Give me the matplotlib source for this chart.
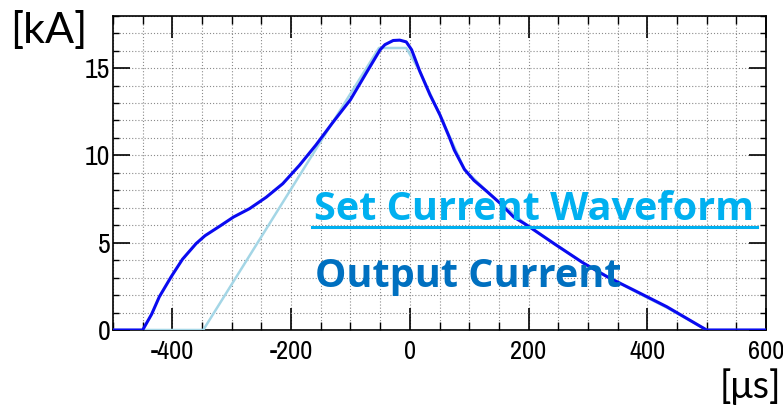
import numpy as np
import matplotlib.pyplot as plt
from matplotlib.ticker import MultipleLocator

plt.rcParams['axes.unicode_minus'] = False

# Output current
out_t = [-500, -450, -435, -422, -402, -383, -360, -345, -320, -297, -270, -242, -214,
         -186, -158, -131, -100, -72, -50, -42, -28, -17, -6, 3, 17, 34, 51, 67,
         75, 92, 108, 131, 153, 175, 197, 245, 293, 335, 377, 433, 500, 600]
out_i = [0, 0, 0.9, 1.9, 3.05, 4.05, 4.95, 5.4, 5.95, 6.47, 6.95, 7.6, 8.38,
         9.43, 10.6, 11.83, 13.19, 14.8, 16.05, 16.34, 16.58, 16.6, 16.5, 16.05, 14.8, 13.47, 12.3, 11.0,
         10.3, 9.2, 8.57, 7.9, 7.23, 6.47, 6.01, 4.9, 3.82, 3.0, 2.29, 1.33, 0, 0]

# Set current waveform
set_t = [-500, -348, -52, -6, 17, 51, 92, 131, 197, 293, 377, 433, 500, 600]
set_i = [0, 0, 16.15, 16.15, 14.8, 12.3, 9.2, 7.9, 6.01, 3.82, 2.25, 1.28, 0, 0]

fig = plt.figure(figsize=(7.83, 4.07), dpi=100)
ax = fig.add_axes([113/783, 1 - 330/407, (766 - 113)/783, (330 - 15.7)/407])

ax.plot(set_t, set_i, color='#a4d6e6', linewidth=1.8, zorder=3)
ax.plot(out_t, out_i, color='#0a0af0', linewidth=2.2, zorder=4)

ax.set_xlim(-500, 600)
ax.set_ylim(0, 18)
ax.xaxis.set_major_locator(MultipleLocator(200))
ax.xaxis.set_minor_locator(MultipleLocator(50))
ax.yaxis.set_major_locator(MultipleLocator(5))
ax.yaxis.set_minor_locator(MultipleLocator(1))

ax.grid(True, which='both', linestyle=(0, (1, 1.8)), color='#8a8a8a', linewidth=0.8)
ax.set_axisbelow(True)

for s in ax.spines.values():
    s.set_linewidth(1.2)

ax.tick_params(axis='x', which='major', direction='in', length=16, width=1.2,
               top=True, pad=7, labelsize=19)
ax.tick_params(axis='x', which='minor', direction='in', length=6, width=1.0, top=True)
ax.tick_params(axis='y', which='major', direction='in', length=12, width=1.2,
               right=True, pad=2, labelsize=20)
ax.tick_params(axis='y', which='minor', direction='in', length=4, width=1.0, right=True)
for lab in ax.get_xticklabels() + ax.get_yticklabels():
    lab.set_family(['Archivo Narrow', 'DejaVu Sans'])

fig.text(10/783, 1 - 11/407, '[kA]', fontsize=31, family=['Lato', 'DejaVu Sans'],
         color='black', va='top')
fig.text(781/783, 1 - 405/407, '[\u03bcs]', fontsize=27, family=['Lato', 'DejaVu Sans'],
         color='black', ha='right', va='bottom')

ax.text(-162, 6.3, 'Set Current Waveform', fontsize=28.5, fontweight='bold',
        family=['Open Sans', 'DejaVu Sans'], color='#00b0f0', zorder=5)
ax.plot([-164, 584], [5.92, 5.92], color='#00b0f0', linewidth=2.2, zorder=5)
ax.text(-159, 2.48, 'Output Current', fontsize=28.5, fontweight='bold',
        family=['Open Sans', 'DejaVu Sans'], color='#0070c0', zorder=5)

fig.savefig('out.png', dpi=100)
